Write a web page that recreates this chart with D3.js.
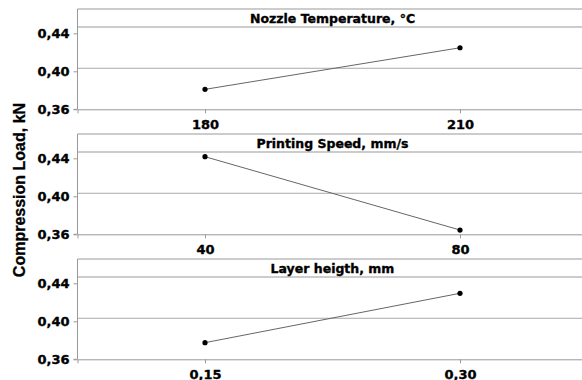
<!DOCTYPE html>
<html>
<head>
<meta charset="utf-8">
<script src="https://cdn.jsdelivr.net/npm/d3@7"></script>
<style>
  body { margin: 0; background: #fff; }
  svg { display: block; }
</style>
</head>
<body>
<div id="chart"></div>
<script>
// factor titles, levels and the mean compression load at each level
const panelTitles = ["Nozzle Temperature, °C", "Printing Speed, mm/s", "Layer heigth, mm"];
const levels = [["180", "210"], ["40", "80"], ["0,15", "0,30"]];
const means = [[0.381, 0.4248], [0.4417, 0.3645], [0.3775, 0.4295]];
const grandMean = 0.4032;
const yTicks = [0.36, 0.40, 0.44];
const yTitle = "Compression Load, kN";

const W = 582, H = 380;
const left = 77.5, plotW = 510;
const panelTops = [9, 134, 259];
const panelH = 100.3, stripH = 18;

const boldFont = "'DejaVu Sans Bold', 'DejaVu Sans', sans-serif";

const locale = d3.formatLocale({ decimal: ",", thousands: ".", grouping: [3], currency: ["", ""] });
const fmt = locale.format(".2f");

const svg = d3.select("#chart").append("svg")
  .attr("width", W)
  .attr("height", H);

const y = d3.scaleLinear()
  .domain([0.36, 0.4656])
  .range([panelH, 0]);

panelTitles.forEach((title, i) => {
  const g = svg.append("g")
    .attr("transform", `translate(${left},${panelTops[i]})`);

  const x = d3.scalePoint()
    .domain(levels[i])
    .range([0, plotW])
    .padding(0.5);

  // frame top + strip
  g.append("line")
    .attr("x1", 0).attr("x2", plotW)
    .attr("y1", 0).attr("y2", 0)
    .attr("stroke", "#999");
  g.append("line")
    .attr("x1", 0).attr("x2", plotW)
    .attr("y1", stripH).attr("y2", stripH)
    .attr("stroke", "#999");
  g.append("text")
    .attr("x", plotW / 2)
    .attr("y", stripH - 4.5)
    .attr("text-anchor", "middle")
    .style("font-family", boldFont)
    .style("font-weight", "bold")
    .style("font-size", "12.5px")
    .attr("fill", "#000")
    .attr("stroke", "#000")
    .attr("stroke-width", 0.35)
    .text(title);

  // grand mean reference line
  g.append("line")
    .attr("x1", 0).attr("x2", plotW)
    .attr("y1", y(grandMean)).attr("y2", y(grandMean))
    .attr("stroke", "#aaa");

  // axes
  const ya = g.append("g")
    .call(d3.axisLeft(y).tickValues(yTicks).tickFormat(fmt).tickSize(4).tickPadding(4));
  const xa = g.append("g")
    .attr("transform", `translate(0,${panelH})`)
    .call(d3.axisBottom(x).tickSize(4).tickPadding(6));

  [ya, xa].forEach(a => {
    a.attr("font-family", null).attr("font-size", null);
    a.select(".domain").attr("stroke", "#999");
    a.selectAll(".tick line").attr("stroke", "#999");
    a.selectAll("text")
      .style("font-family", boldFont)
      .style("font-weight", "bold")
      .style("font-size", "13px")
      .attr("fill", "#000")
      .attr("stroke", "#000")
      .attr("stroke-width", 0.35);
  });
  ya.select(".domain").attr("d", `M-4,${panelH}H0V0`);

  const data = levels[i].map((l, j) => ({ level: l, value: means[i][j] }));

  const line = d3.line()
    .x(d => x(d.level))
    .y(d => y(d.value));

  g.append("path")
    .datum(data)
    .attr("fill", "none")
    .attr("stroke", "#666")
    .attr("stroke-width", 1)
    .attr("d", line);

  g.selectAll(".dot")
    .data(data)
    .enter().append("circle")
    .attr("class", "dot")
    .attr("cx", d => x(d.level))
    .attr("cy", d => y(d.value))
    .attr("r", 2.6)
    .attr("fill", "#000");
});

svg.append("text")
  .attr("transform", "translate(25,190) rotate(-90)")
  .attr("text-anchor", "middle")
  .style("font-family", "'Liberation Sans', Arial, sans-serif")
  .style("font-weight", "bold")
  .style("font-size", "16px")
  .attr("fill", "#000")
  .attr("stroke", "#000")
  .attr("stroke-width", 0.3)
  .text(yTitle);
</script>
</body>
</html>
